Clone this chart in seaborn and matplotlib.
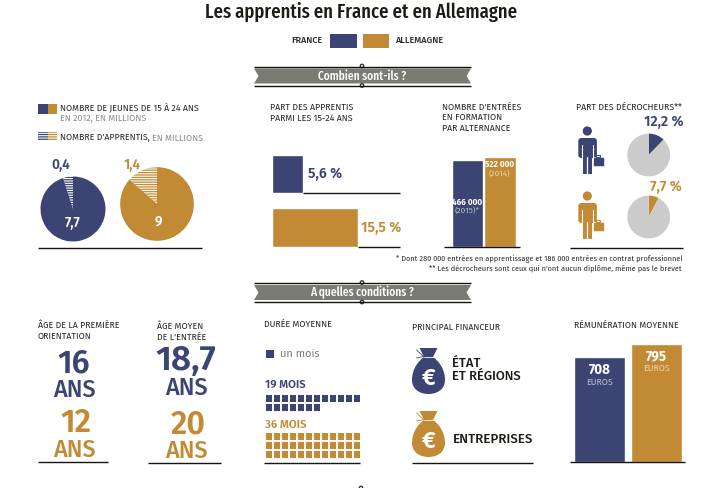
import numpy as np
import pandas as pd
import matplotlib
matplotlib.use('Agg')
import matplotlib.pyplot as plt
import seaborn as sns
from matplotlib.colors import ListedColormap
from matplotlib.patches import Circle, FancyBboxPatch, PathPatch, Polygon, Rectangle
from matplotlib.path import Path

# data
pays = ['France', 'Allemagne']
jeunes = [7.7, 9]
apprentis = [0.4, 1.4]
part_apprentis = [5.6, 15.5]
# the two bars are not to scale in the original, so heights are read as drawn
entrees_hauteur = [87, 89.5]
entrees_labels = ['466 000', '522 000']
entrees_annees = ['(2015)*', '(2014)']
decrocheurs = [12.2, 7.7]
age_orientation = ['16', '12']
age_entree = ['18,7', '20']
duree_mois = [19, 36]
remuneration = [708, 795]

NAVY = '#3b4472'
GOLD = '#c28a35'
DARK = '#2b2a26'
GREY = '#8d8d8d'
LABEL = 8.8
W, H = 716, 488

sns.set_theme(style='white')
plt.rcParams['font.family'] = ['Fira Sans', 'Lato', 'DejaVu Sans']
plt.rcParams['hatch.linewidth'] = 0.9
NARROW = ['Fira Sans Extra Condensed', 'Roboto Condensed', 'Lato', 'DejaVu Sans']

fig = plt.figure(figsize=(W / 100, H / 100), dpi=100, facecolor='white')


def px_axes(x0, y0, x1, y1):
    # axes placed from pixel corners, y counted from the top
    ax = fig.add_axes([x0 / W, 1 - y1 / H, (x1 - x0) / W, (y1 - y0) / H])
    ax.set_axis_off()
    return ax


ov = px_axes(0, 0, W, H)
ov.set_xlim(0, W)
ov.set_ylim(H, 0)
ov.set_zorder(5)
ov.patch.set_alpha(0)


def txt(x, y, s, px=9, color=DARK, weight='normal', ha='left', **kw):
    ov.text(x, y, s, fontsize=px * 0.72, color=color, fontweight=weight,
            ha=ha, va='center', **kw)


def rule(x0, x1, y, lw=1.0):
    ov.plot([x0, x1], [y, y], color='#15130f', lw=lw, solid_capstyle='butt')


def ornament(x, y):
    ov.add_patch(Circle((x, y), 1.7, fc='white', ec='#333333', lw=1.0))


def banner(y, label):
    rule(254, 471, y - 9.5, 1.0)
    rule(254, 471, y + 9.5, 1.0)
    ov.add_patch(Polygon([(254, y - 7.5), (471, y - 7.5), (466.5, y), (471, y + 7.5),
                          (254, y + 7.5), (258.5, y)], fc='#7a7b75', ec='none'))
    ornament(362, y - 10)
    ornament(362, y + 9.5)
    txt(362, y, label, px=12.5, color='white', weight='medium', ha='center', family=NARROW)


def person(top, color):
    ov.add_patch(Circle((587.3, top + 5), 4.6, fc=color, ec='none'))
    ov.add_patch(FancyBboxPatch((578.3, top + 12), 18.6, 20, boxstyle='round,pad=0,rounding_size=3',
                                fc=color, ec='none'))
    ov.add_patch(Rectangle((582.5, top + 28), 9.8, 20, fc=color, ec='none'))
    # gaps between arms, torso and legs
    ov.plot([582, 582], [top + 19, top + 33], color='white', lw=0.8)
    ov.plot([592.7, 592.7], [top + 19, top + 33], color='white', lw=0.8)
    ov.plot([587.4, 587.4], [top + 31, top + 49], color='white', lw=0.9)
    ov.add_patch(Rectangle((593, top + 30.5), 10.5, 9.5, fc=color, ec='white', lw=0.4))
    ov.add_patch(Rectangle((596, top + 28.5), 4, 2.5, fc='none', ec=color, lw=0.7))


def bag(top, color):
    cx = 428.5
    verts = [(cx - 9, top), (cx + 9, top), (cx + 4.5, top + 9),
             (cx + 9, top + 12), (cx + 16.5, top + 20), (cx + 16.5, top + 32),
             (cx + 16.5, top + 41), (cx + 9, top + 46), (cx, top + 46),
             (cx - 9, top + 46), (cx - 16.5, top + 41), (cx - 16.5, top + 32),
             (cx - 16.5, top + 20), (cx - 9, top + 12), (cx - 4.5, top + 9),
             (cx - 9, top)]
    codes = [Path.MOVETO, Path.LINETO, Path.LINETO] + [Path.CURVE4] * 12 + [Path.CLOSEPOLY]
    ov.add_patch(PathPatch(Path(verts, codes), fc=color, ec='none'))
    ov.plot([cx - 5, cx + 5], [top + 8.5, top + 8.5], color='white', lw=0.6)
    ov.plot([cx - 12, cx - 5, cx - 12], [top + 2, top + 8.5, top + 10], color=color, lw=0.6)
    txt(cx, top + 30, '€', px=23, color='white', weight='bold', ha='center')


# title and legend
txt(361, 12, 'Les apprentis en France et en Allemagne', px=20.3, color='#1d1b16', weight='medium',
    ha='center', family=NARROW)
txt(322, 40, 'FRANCE', px=9, weight='medium', ha='right')
ov.add_patch(Rectangle((330, 34), 26.5, 14, fc=NAVY, ec='none'))
ov.add_patch(Rectangle((363, 34), 26, 14, fc=GOLD, ec='none'))
txt(395, 40, 'ALLEMAGNE', px=9, weight='medium')
banner(76, 'Combien sont-ils ?')
banner(292.5, 'A quelles conditions ?')
ornament(361, 488)

# first column, young people and apprentices
ov.add_patch(Rectangle((38, 104), 9.5, 9.5, fc=NAVY, ec='none'))
ov.add_patch(Rectangle((47.5, 104), 9.5, 9.5, fc=GOLD, ec='none'))
txt(60, 107, 'NOMBRE DE JEUNES DE 15 À 24 ANS', px=LABEL)
txt(60, 118.5, 'EN 2012, EN MILLIONS', px=LABEL, color=GREY)
ov.add_patch(Rectangle((38, 131.5), 9.5, 9.5, fc='white', ec=NAVY, lw=0, hatch='-------'))
ov.add_patch(Rectangle((47.5, 131.5), 9.5, 9.5, fc='white', ec=GOLD, lw=0, hatch='-------'))
txt(60, 138, "NOMBRE D'APPRENTIS,", px=LABEL)
txt(152, 138, 'EN MILLIONS', px=LABEL, color=GREY)

# both pies share one scale, area follows the total
k = 32.5 / np.sqrt(jeunes[0] + apprentis[0])
for cx, cy, j, a, col in zip([73, 157], [209, 204], jeunes, apprentis, [NAVY, GOLD]):
    ax = px_axes(cx - 42, cy - 42, cx + 42, cy + 42)
    wedges, _ = ax.pie([a, j], colors=['white', col], startangle=90, counterclock=True,
                       radius=k * np.sqrt(a + j), wedgeprops={'linewidth': 0})
    wedges[0].set_edgecolor(col)
    wedges[0].set_hatch('-------')
    ax.set_xlim(-42, 42)
    ax.set_ylim(-42, 42)
txt(61, 165, '0,4', px=13.5, color=NAVY, weight='semibold', ha='center')
txt(132, 164.5, '1,4', px=13.5, color=GOLD, weight='semibold', ha='center')
txt(73, 223, '7,7', px=13.5, color='white', weight='semibold', ha='center')
txt(158, 222, '9', px=13.5, color='white', weight='semibold', ha='center')
rule(38, 202, 247.5)

# share of apprentices
txt(270, 107, 'PART DES APPRENTIS', px=LABEL)
txt(270, 118, 'PARMI LES 15-24 ANS', px=LABEL)
ax = px_axes(272, 155, 400, 247)
sns.barplot(x=part_apprentis, y=pays, hue=pays, palette=[NAVY, GOLD], orient='h',
            width=0.72, saturation=1, legend=False, ax=ax)
ax.set_xlim(0, 128 / (86 / part_apprentis[1]))
ax.set_ylim(1 + 19.5 / 53, -19 / 53)
ax.set_axis_off()
rule(303, 400, 192.5)
rule(358, 400, 246.8)
txt(308, 174, '5,6 %', px=14, color=NAVY, weight='semibold')
txt(361, 228, '15,5 %', px=14, color=GOLD, weight='semibold')

# entries
for i, s in enumerate(['NOMBRE D\'ENTRÉES', 'EN FORMATION', 'PAR ALTERNANCE']):
    txt(442.5, 107 + i * 10.7, s, px=LABEL)
ax = px_axes(444, 150, 520, 246.5)
sns.barplot(x=pays, y=entrees_hauteur, hue=pays, palette=[NAVY, GOLD], width=0.96,
            saturation=1, legend=False, ax=ax)
ax.set_xlim(-23.5 / 32.5, 1 + 20 / 32.5)
ax.set_ylim(0, 96.5)
ax.set_axis_off()
rule(444, 520, 247)
txt(467.5, 202, entrees_labels[0], px=8.2, color='white', weight='bold', ha='center')
txt(467.5, 211, entrees_annees[0], px=8, color='#b9bdd0', ha='center')
txt(499.5, 164.5, entrees_labels[1], px=8.2, color='white', weight='bold', ha='center')
txt(499.5, 174, entrees_annees[1], px=8, color='#ead4ae', ha='center')

# drop-outs
txt(575.5, 107, 'PART DES DÉCROCHEURS**', px=LABEL)
for cy, d, col, lab, lx, ly in zip([155, 217], decrocheurs, [NAVY, GOLD],
                                   ['12,2 %', '7,7 %'], [684, 682], [122, 187]):
    ax = px_axes(648.7 - 25, cy - 25, 648.7 + 25, cy + 25)
    ax.pie([d, 100 - d], colors=[col, '#cbcbcb'], startangle=90, counterclock=False,
           radius=21.4, wedgeprops={'linewidth': 0})
    ax.set_xlim(-25, 25)
    ax.set_ylim(-25, 25)
    txt(lx, ly, lab, px=14, color=col, weight='semibold', ha='right')
person(126, NAVY)
person(191, GOLD)
rule(570, 683, 247.5)
txt(683, 259, '* Dont 280 000 entrées en apprentissage et 186 000 entrées en contrat professionnel',
    px=7.35, ha='right')
txt(682, 268.5, "** Les décrocheurs sont ceux qui n'ont aucun diplôme, même pas le brevet",
    px=7.35, ha='right')

# ages
txt(38, 325.5, 'ÂGE DE LA PREMIÈRE', px=LABEL)
txt(38, 336.5, 'ORIENTATION', px=LABEL)
txt(74, 364, age_orientation[0], px=32, color=NAVY, weight='semibold', ha='center')
txt(74, 390, 'ANS', px=23.5, color=NAVY, weight='medium', ha='center')
txt(76, 423.5, age_orientation[1], px=32, color=GOLD, weight='semibold', ha='center')
txt(74, 450, 'ANS', px=23.5, color=GOLD, weight='medium', ha='center')
rule(38, 108, 462)
txt(157, 326, 'ÂGE MOYEN', px=LABEL)
txt(157, 337, "DE L'ENTRÉE", px=LABEL)
txt(186, 361, age_entree[0], px=35, color=NAVY, weight='semibold', ha='center')
txt(186, 388, 'ANS', px=23.5, color=NAVY, weight='medium', ha='center')
txt(188.5, 425, age_entree[1], px=32, color=GOLD, weight='semibold', ha='center')
txt(186, 451, 'ANS', px=23.5, color=GOLD, weight='medium', ha='center')
rule(148, 221, 463)

# duration, one square per month
txt(264, 324, 'DURÉE MOYENNE', px=LABEL)
ov.add_patch(Rectangle((266, 350), 7.5, 7.5, fc=NAVY, ec='none'))
txt(280, 354, 'un mois', px=11, color='#7d7d7d')
txt(265, 385, '19 MOIS', px=11.3, color=NAVY, weight='semibold')
txt(265, 424.5, '36 MOIS', px=11.3, color=GOLD, weight='semibold')
n_cols = 12
for mois, col, box in zip(duree_mois, [NAVY, GOLD], [(265, 394, 361, 411.5), (265, 432, 361, 458.5)]):
    n_rows = int(np.ceil(mois / n_cols))
    grid = pd.DataFrame((np.arange(n_rows * n_cols) < mois).reshape(n_rows, n_cols).astype(float))
    ax = px_axes(*box)
    sns.heatmap(grid, mask=grid == 0, cmap=ListedColormap([col]), cbar=False, linewidths=0.15,
                linecolor='white', xticklabels=False, yticklabels=False, ax=ax)
    ax.set_axis_off()
rule(264, 360, 463)

# funding
txt(412, 327, 'PRINCIPAL FINANCEUR', px=LABEL)
bag(348, NAVY)
bag(411, GOLD)
txt(452, 363, 'ÉTAT', px=13, color='#1d1b16', weight='medium')
txt(452, 376, 'ET RÉGIONS', px=13, color='#1d1b16', weight='medium')
txt(453, 439.5, 'ENTREPRISES', px=13.3, color='#1d1b16', weight='medium')
rule(412, 533, 463)

# pay
txt(574, 325, 'RÉMUNÉRATION MOYENNE', px=LABEL)
ax = px_axes(570, 340, 685, 462)
sns.barplot(x=pays, y=remuneration, hue=pays, palette=[NAVY, GOLD], width=0.895,
            saturation=1, legend=False, ax=ax)
ax.set_xlim(-29.5 / 57, 1 + 28.5 / 57)
ax.set_ylim(0, 122 / (118 / remuneration[1]))
ax.set_axis_off()
rule(570, 685, 462.3)
txt(599.5, 370, str(remuneration[0]), px=13.5, color='white', weight='bold', ha='center')
txt(599.5, 382.5, 'EUROS', px=LABEL, color='#b9bdd0', ha='center')
txt(656, 356, str(remuneration[1]), px=13.5, color='white', weight='bold', ha='center')
txt(656, 368, 'EUROS', px=LABEL, color='#ead4ae', ha='center')

fig.savefig('out.png', dpi=100)
